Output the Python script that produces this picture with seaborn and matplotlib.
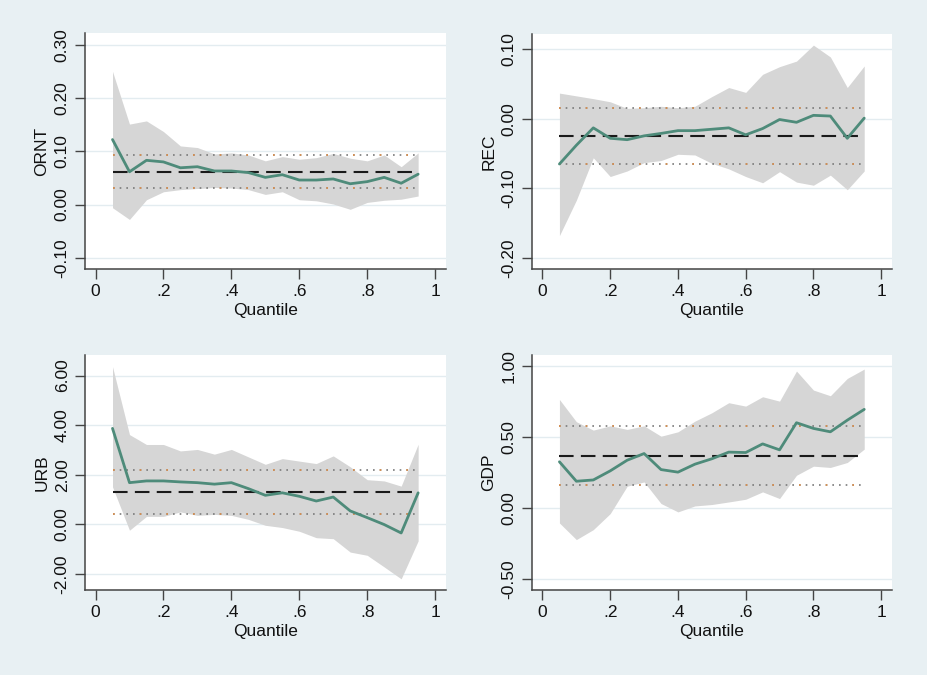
import numpy as np
import pandas as pd
import matplotlib
matplotlib.use("Agg")
import matplotlib.pyplot as plt
import seaborn as sns

quantiles = [0.05, 0.10, 0.15, 0.20, 0.25, 0.30, 0.35, 0.40, 0.45, 0.50,
             0.55, 0.60, 0.65, 0.70, 0.75, 0.80, 0.85, 0.90, 0.95]

# ORNT
ornt_coef = [0.122, 0.0615, 0.083, 0.080, 0.069, 0.071, 0.063, 0.063, 0.060, 0.051,
             0.056, 0.046, 0.046, 0.048, 0.039, 0.043, 0.051, 0.040, 0.057]
ornt_hi = [0.250, 0.151, 0.157, 0.137, 0.110, 0.107, 0.095, 0.097, 0.093, 0.082,
           0.090, 0.085, 0.088, 0.096, 0.087, 0.082, 0.093, 0.071, 0.097]
ornt_lo = [-0.006, -0.028, 0.009, 0.024, 0.028, 0.030, 0.032, 0.031, 0.028, 0.019,
           0.024, 0.009, 0.007, 0.001, -0.009, 0.004, 0.008, 0.010, 0.016]
ornt_ols = [0.0615, 0.093, 0.031]

# REC
rec_coef = [-0.065, -0.038, -0.013, -0.028, -0.030, -0.0245, -0.021, -0.017, -0.017, -0.015,
            -0.013, -0.023, -0.014, -0.001, -0.005, 0.005, 0.004, -0.028, 0.001]
rec_hi = [0.037, 0.033, 0.029, 0.0245, 0.015, 0.016, 0.018, 0.016, 0.018, 0.032,
          0.045, 0.038, 0.064, 0.075, 0.083, 0.106, 0.089, 0.045, 0.076]
rec_lo = [-0.168, -0.117, -0.056, -0.083, -0.075, -0.063, -0.060, -0.051, -0.052, -0.064,
          -0.072, -0.083, -0.092, -0.076, -0.091, -0.0955, -0.081, -0.102, -0.075]
rec_ols = [-0.025, 0.015, -0.065]

# URB
urb_coef = [3.87, 1.68, 1.75, 1.75, 1.71, 1.68, 1.62, 1.68, 1.44, 1.17,
            1.27, 1.13, 0.94, 1.10, 0.54, 0.27, -0.01, -0.35, 1.27]
urb_hi = [6.36, 3.62, 3.22, 3.22, 2.96, 3.02, 2.83, 3.02, 2.72, 2.42,
          2.65, 2.55, 2.45, 2.76, 2.32, 1.80, 1.75, 1.54, 3.23]
urb_lo = [1.51, -0.24, 0.32, 0.32, 0.50, 0.36, 0.40, 0.36, 0.20, -0.04,
          -0.13, -0.28, -0.54, -0.58, -1.12, -1.25, -1.72, -2.20, -0.67]
urb_ols = [1.29, 2.18, 0.40]

# GDP
gdp_coef = [0.325, 0.188, 0.197, 0.261, 0.336, 0.383, 0.270, 0.252, 0.308, 0.346,
            0.393, 0.390, 0.451, 0.409, 0.600, 0.560, 0.536, 0.618, 0.694]
gdp_hi = [0.764, 0.607, 0.548, 0.578, 0.553, 0.578, 0.505, 0.536, 0.611, 0.670,
          0.741, 0.717, 0.783, 0.752, 0.964, 0.830, 0.790, 0.912, 0.978]
gdp_lo = [-0.106, -0.223, -0.153, -0.040, 0.153, 0.183, 0.031, -0.028, 0.014, 0.024,
          0.042, 0.061, 0.113, 0.066, 0.230, 0.294, 0.285, 0.320, 0.414]
gdp_ols = [0.369, 0.578, 0.158]

panels = [
    ("ORNT", ornt_coef, ornt_hi, ornt_lo, ornt_ols, [-0.10, 0.00, 0.10, 0.20, 0.30], (-0.121, 0.322)),
    ("REC", rec_coef, rec_hi, rec_lo, rec_ols, [-0.20, -0.10, 0.00, 0.10], (-0.216, 0.122)),
    ("URB", urb_coef, urb_hi, urb_lo, urb_ols, [-2.0, 0.0, 2.0, 4.0, 6.0], (-2.65, 6.83)),
    ("GDP", gdp_coef, gdp_hi, gdp_lo, gdp_ols, [-0.50, 0.00, 0.50, 1.00], (-0.578, 1.077)),
]

sns.set_style("white")
plt.rcParams['font.family'] = ['Liberation Sans', 'DejaVu Sans']

bg = '#e8f0f3'
fig = plt.figure(figsize=(9.27, 6.75), dpi=100, facecolor=bg)

# axes boxes in pixels: left, top, right, bottom
boxes = [(85, 33, 446, 269), (532, 34, 892, 269),
         (85, 355, 446, 590), (532, 355, 892, 590)]
W, H = 927, 675

for (name, coef, hi, lo, ols, yticks, ylim), (l, t, r, b) in zip(panels, boxes):
    ax = fig.add_axes([l / W, 1 - b / H, (r - l) / W, (b - t) / H])
    ax.set_facecolor('white')
    df = pd.DataFrame({'q': quantiles, 'coef': coef, 'hi': hi, 'lo': lo})

    for yv in yticks:
        ax.axhline(yv, color='#e3ecf0', lw=1.0, zorder=0)

    ax.fill_between(df['q'], df['lo'], df['hi'], color='#d6d6d6', lw=0, zorder=1)
    sns.lineplot(data=df, x='q', y='coef', ax=ax, color='#4e8b7a', lw=2, zorder=4)

    x0, x1 = quantiles[0], quantiles[-1]
    ax.hlines(ols[0], x0, x1, color='#1a1a1a', lw=1.5, linestyles=(0, (7, 3.5)), zorder=3)
    for yv in ols[1:]:
        ax.hlines(yv, x0, x1, color='#7a7a7a', lw=1.2, linestyles=(0, (1, 3)), zorder=3)
        ax.hlines(yv, x0, x1, color='#e0904a', lw=1.2, linestyles=(0, (1, 15)), zorder=3)

    ax.set_xlim(-0.031, 1.032)
    ax.set_ylim(*ylim)
    ax.set_xticks([0, 0.2, 0.4, 0.6, 0.8, 1.0])
    ax.set_xticklabels(['0', '.2', '.4', '.6', '.8', '1'])
    ax.set_yticks(yticks)
    ax.set_yticklabels([f'{v:.2f}' for v in yticks], rotation=90, va='center')
    ax.tick_params(axis='both', direction='out', length=7, width=1, color='#444444',
                   labelsize=12.5, labelcolor='#111111', left=True, bottom=True, pad=4)
    ax.set_xlabel('Quantile', fontsize=12.5, labelpad=3, color='#111111')
    ax.set_ylabel(name, fontsize=12.5, labelpad=4, color='#111111')
    for side in ['top', 'right']:
        ax.spines[side].set_visible(False)
    for side in ['left', 'bottom']:
        ax.spines[side].set_color('#444444')
        ax.spines[side].set_linewidth(1.1)

plt.savefig('out.png', dpi=100, facecolor=bg)
plt.close()
